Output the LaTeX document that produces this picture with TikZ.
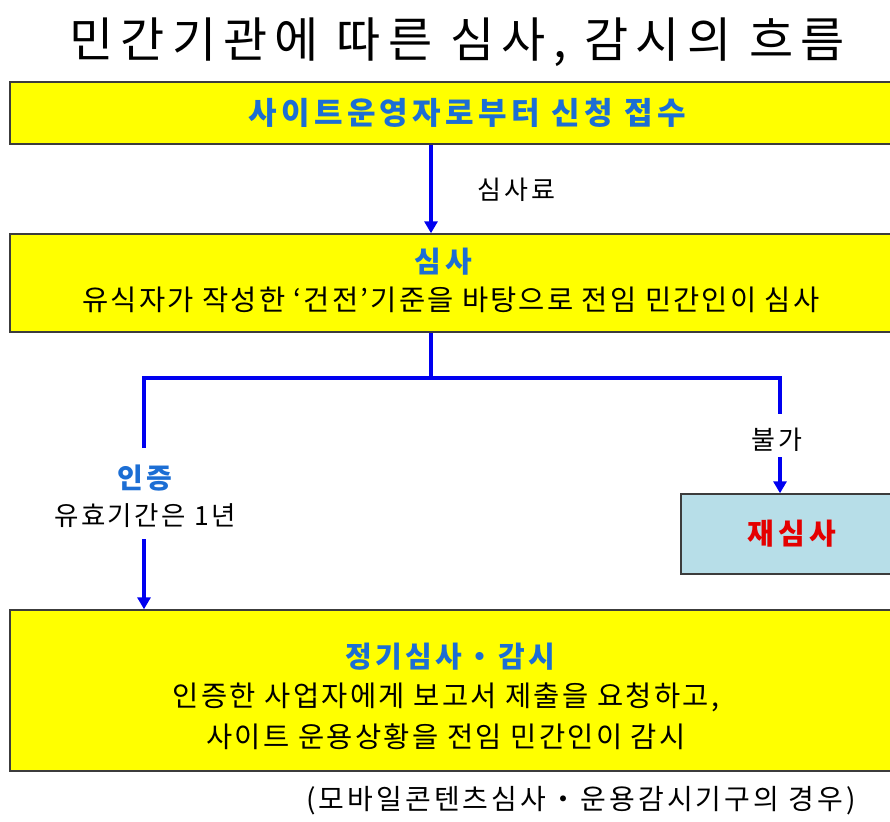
\documentclass[tikz,border=0pt]{standalone}
\usepackage{fontspec}
\setmainfont{Noto Sans CJK KR}
\usetikzlibrary{arrows.meta}
\definecolor{boxyellow}{RGB}{255,255,0}
\definecolor{boxteal}{RGB}{183,222,232}
\definecolor{txtblue}{RGB}{28,110,212}
\definecolor{arrblue}{RGB}{0,0,240}
\definecolor{txtred}{RGB}{228,0,0}
\definecolor{edge}{RGB}{60,60,60}
\newcommand{\ls}[1]{\addfontfeature{LetterSpace=#1}}
\tikzset{
  box/.style={draw=edge, line width=1.4pt, fill=boxyellow, inner sep=0pt},
  tealbox/.style={draw=edge, line width=1.4pt, fill=boxteal, inner sep=0pt},
  lbl/.style={inner sep=0pt, anchor=center},
  conn/.style={draw=arrblue, line width=3.6pt},
  arr/.style={draw=arrblue, line width=3.6pt, -{Triangle[width=13pt,length=12pt]}},
}
\begin{document}
\begin{tikzpicture}[x=1pt,y=-1pt]
\useasboundingbox (0,0) rectangle (890,821);
% title
\node[lbl] (title) at (457,42) {\fontsize{48}{50}\selectfont\ls{15}민간기관에 따른 심사, 감시의 흐름};
% boxes
\node[box, minimum width=882pt, minimum height=62pt] (box1) at (451,113) {};
\node[lbl, text=txtblue] (t1) at (467,113) {\fontsize{31}{34}\selectfont\bfseries\ls{14}사이트운영자로부터 신청 접수};
\node[box, minimum width=882pt, minimum height=98pt] (box2) at (451,283) {};
\node[lbl, text=txtblue] (t2a) at (443,262) {\fontsize{29}{32}\selectfont\bfseries\ls{14}심사};
\node[lbl] (t2b) at (451,300) {\fontsize{28.5}{32}\selectfont\ls{7.5}유식자가 작성한 ‘건전’기준을 바탕으로 전임 민간인이 심사};
\node[box, minimum width=882pt, minimum height=161pt] (box3) at (451,690.5) {};
\node[lbl, text=txtblue] (t3a) at (450,657) {\fontsize{29}{32}\selectfont\bfseries\ls{12}정기심사・감시};
\node[lbl] (t3b) at (446,697) {\fontsize{28.5}{32}\selectfont\ls{8}인증한 사업자에게 보고서 제출을 요청하고,};
\node[lbl] (t3c) at (446,737) {\fontsize{28.5}{32}\selectfont\ls{8}사이트 운용상황을 전임 민간인이 감시};
\node[tealbox, minimum width=211pt, minimum height=80pt] (redo) at (786.5,534) {};
\node[lbl, text=txtred] (tredo) at (792,534) {\fontsize{29}{32}\selectfont\bfseries\ls{14}재심사};
% labels
\node[lbl] (fee) at (516,190) {\fontsize{26}{28}\selectfont\ls{12}심사료};
\node[lbl, text=txtblue] (cert) at (145,478) {\fontsize{28}{30}\selectfont\bfseries\ls{14}인증};
\node[lbl] (certsub) at (145,516) {\fontsize{26.5}{30}\selectfont\ls{9}유효기간은 1년};
\node[lbl] (ng) at (777,440) {\fontsize{26}{28}\selectfont\ls{12}불가};
\node[lbl] (note) at (581,801) {\fontsize{28}{30}\selectfont\ls{11}(모바일콘텐츠심사・운용감시기구의 경우)};
% coordinates
\coordinate (a1) at (431,144);
\coordinate (j) at (431,378);
\coordinate (jl) at (144,378);
\coordinate (jr) at (780,378);
\coordinate (l1) at (144,448);
\coordinate (l2) at (144,539);
\coordinate (r1) at (780,414);
\coordinate (r2) at (780,457);
% connectors
\draw[arr] (box1.south -| a1) -- (box2.north -| a1);
\draw[conn, line join=miter] (box2.south -| j) -- (j);
\draw[conn, line join=miter] (l1) -- (jl) -- (jr) -- (r1);
\draw[arr] (l2) -- (box3.north -| l2);
\draw[arr] (r2) -- (redo.north -| r2);
\end{tikzpicture}
\end{document}
